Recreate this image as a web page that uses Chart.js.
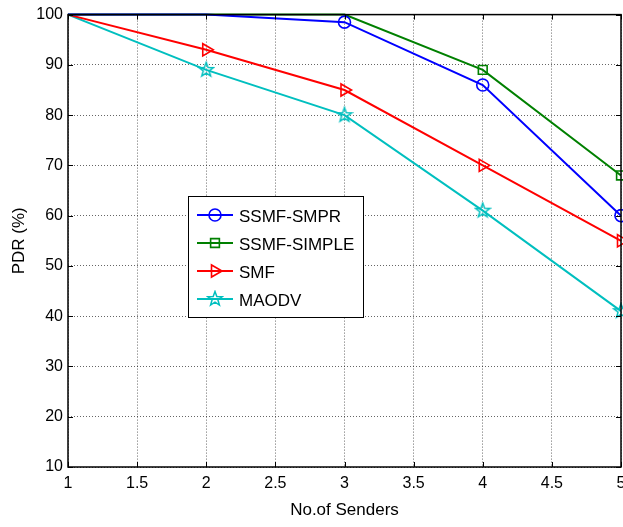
<!DOCTYPE html>
<html><head><meta charset="utf-8">
<script src="https://cdn.jsdelivr.net/npm/chart.js@4/dist/chart.umd.min.js"></script>
<style>html,body{margin:0;padding:0;background:#fff}</style>
</head><body>
<canvas id="c" width="623" height="527"></canvas>
<script>
// Packet delivery ratio against the number of senders
const senders = [1, 2, 3, 4, 5];
const seriesNames = ['SSMF-SMPR', 'SSMF-SIMPLE', 'SMF', 'MAODV'];
const ssmfSmpr = [100, 100, 98.5, 86, 60];
const ssmfSimple = [100, 100, 100, 89, 68];
const smf = [100, 93, 85, 70, 55];
const maodv = [100, 89, 80, 61, 41];
const xTicks = [1, 1.5, 2, 2.5, 3, 3.5, 4, 4.5, 5];
const yTicks = [10, 20, 30, 40, 50, 60, 70, 80, 90, 100];

const FONT = '"Liberation Sans", Arial, sans-serif';

// five-pointed star marker, outline only
function makeStar(color) {
  const cv = document.createElement('canvas');
  cv.width = 18; cv.height = 18;
  const g = cv.getContext('2d');
  g.strokeStyle = color; g.lineWidth = 1.5; g.lineJoin = 'miter';
  g.beginPath();
  for (let i = 0; i < 10; i++) {
    const r = i % 2 === 0 ? 7.5 : 3.1;
    const a = -Math.PI / 2 + i * Math.PI / 5;
    const px = 9 + r * Math.cos(a), py = 9 + r * Math.sin(a);
    if (i === 0) g.moveTo(px, py); else g.lineTo(px, py);
  }
  g.closePath(); g.stroke();
  return cv;
}

const styles = [
  { color: '#0000ff', pointStyle: 'circle', radius: 6, rotation: 0 },
  { color: '#008000', pointStyle: 'rect', radius: 6.2, rotation: 0 },
  { color: '#ff0000', pointStyle: 'triangle', radius: 7, rotation: 90 },
  { color: '#00bfbf', pointStyle: makeStar('#00bfbf'), radius: 7, rotation: 0 }
];
const values = [ssmfSmpr, ssmfSimple, smf, maodv];

const datasets = values.map((vals, i) => ({
  label: seriesNames[i],
  data: senders.map((x, k) => ({ x: x, y: vals[k] })),
  borderColor: styles[i].color,
  borderWidth: 2,
  backgroundColor: 'rgba(0,0,0,0)',
  pointBackgroundColor: 'rgba(0,0,0,0)',
  pointBorderColor: styles[i].color,
  pointBorderWidth: 1.6,
  pointStyle: styles[i].pointStyle,
  pointRotation: styles[i].rotation,
  // markers sitting on the top frame are hidden by it
  pointRadius: vals.map(v => v >= 100 ? 0 : styles[i].radius),
  pointHoverRadius: 0,
  tension: 0,
  clip: false
}));

const frame = {
  id: 'frame',
  afterDraw(chart) {
    const { ctx, chartArea: a, scales } = chart;
    ctx.save();
    // inward tick marks on all four sides
    ctx.strokeStyle = '#000'; ctx.lineWidth = 1;
    const t = 5;
    xTicks.forEach(v => {
      const px = Math.round(scales.x.getPixelForValue(v)) + 0.5;
      ctx.beginPath();
      ctx.moveTo(px, a.bottom); ctx.lineTo(px, a.bottom - t);
      ctx.moveTo(px, a.top); ctx.lineTo(px, a.top + t);
      ctx.stroke();
    });
    yTicks.forEach(v => {
      const py = Math.round(scales.y.getPixelForValue(v)) + 0.5;
      ctx.beginPath();
      ctx.moveTo(a.left, py); ctx.lineTo(a.left + t, py);
      ctx.moveTo(a.right, py); ctx.lineTo(a.right - t, py);
      ctx.stroke();
    });
    // axes box
    ctx.lineWidth = 1.5;
    ctx.strokeRect(a.left, a.top, a.right - a.left, a.bottom - a.top);

    // legend box
    const lx = 188, ly = 196, lw = 175, lh = 121;
    ctx.fillStyle = '#fff';
    ctx.fillRect(lx, ly, lw, lh);
    ctx.lineWidth = 1;
    ctx.strokeStyle = '#000';
    ctx.strokeRect(lx + 0.5, ly + 0.5, lw, lh);
    ctx.font = '17px ' + FONT;
    ctx.textBaseline = 'middle';
    chart.data.datasets.forEach((ds, i) => {
      const y = ly + 19 + i * 28;
      ctx.strokeStyle = ds.borderColor;
      ctx.lineWidth = 2;
      ctx.beginPath(); ctx.moveTo(lx + 9, y); ctx.lineTo(lx + 45, y); ctx.stroke();
      ctx.lineWidth = 1.6;
      ctx.fillStyle = 'rgba(0,0,0,0)';
      Chart.helpers.drawPoint(ctx, {
        pointStyle: styles[i].pointStyle,
        radius: styles[i].radius,
        rotation: styles[i].rotation,
        borderWidth: 1.6
      }, lx + 27, y);
      ctx.fillStyle = '#000';
      ctx.fillText(ds.label, lx + 51, y + 2);
    });
    ctx.restore();
  }
};

new Chart(document.getElementById('c'), {
  type: 'line',
  data: { datasets },
  plugins: [frame],
  options: {
    responsive: false,
    animation: false,
    devicePixelRatio: 1,
    layout: { autoPadding: false, padding: { left: 0, right: 2, top: 13, bottom: 0 } },
    plugins: { legend: { display: false }, tooltip: { enabled: false } },
    scales: {
      x: {
        type: 'linear', min: 1, max: 5,
        afterFit(s) { s.height = 60; s.paddingRight = 2; s.paddingLeft = 0; },
        afterBuildTicks(s) { s.ticks = xTicks.map(v => ({ value: v })); },
        ticks: { color: '#000', font: { family: FONT, size: 16 }, padding: 7, maxRotation: 0,
                 callback: v => String(v) },
        grid: { color: 'rgba(0,0,0,0.6)', borderDash: [1, 2], drawTicks: false, lineWidth: 1 },
        border: { display: false, dash: [1, 2] },
        title: { display: true, text: 'No.of Senders', color: '#000', font: { family: FONT, size: 17 }, padding: { top: 0, bottom: 6 } }
      },
      y: {
        type: 'linear', min: 10, max: 100,
        afterFit(s) { s.width = 68; },
        afterBuildTicks(s) { s.ticks = yTicks.map(v => ({ value: v })); },
        ticks: { color: '#000', font: { family: FONT, size: 16 }, padding: 5, callback: v => String(v) },
        grid: { color: 'rgba(0,0,0,0.6)', drawTicks: false, lineWidth: 1 },
        border: { display: false, dash: [1, 2] },
        title: { display: true, text: 'PDR (%)', color: '#000', font: { family: FONT, size: 17 }, padding: { top: 9, bottom: 0 } }
      }
    }
  }
});
</script>
</body></html>
